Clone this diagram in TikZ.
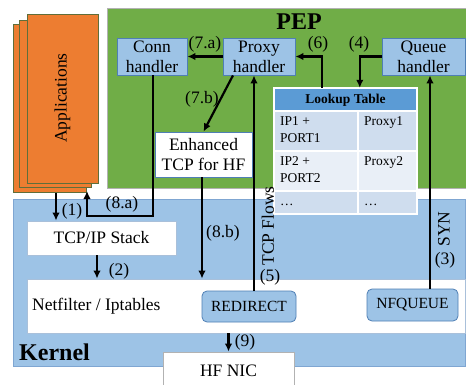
\documentclass[tikz,border=0pt]{standalone}
\usepackage{fontspec}
\setmainfont{Liberation Serif}
\usetikzlibrary{arrows.meta}
\definecolor{orng}{HTML}{ED7D31}
\definecolor{orngb}{HTML}{5F6E3A}
\definecolor{pepg}{HTML}{70AD47}
\definecolor{lblue}{HTML}{9DC3E6}
\definecolor{bord}{HTML}{4F7FB5}
\definecolor{kbord}{HTML}{7FA6D2}
\definecolor{wbord}{HTML}{A9C0DA}
\definecolor{hdr}{HTML}{5B9BD5}
\definecolor{rowa}{HTML}{CFDDEE}
\definecolor{rowb}{HTML}{E9EFF7}
\tikzset{
  mfont/.style={font=\fontsize{17.5}{20}\selectfont},
  tfont/.style={font=\fontsize{13.5}{17}\selectfont},
  box/.style={draw, inner sep=0pt, mfont, align=center},
  appbox/.style={box, fill=orng, draw=orngb, line width=0.8pt},
  handler/.style={box, fill=lblue, draw=bord, line width=0.8pt, minimum height=37pt},
  whitebox/.style={box, fill=white, draw=wbord, line width=0.8pt},
  rulebox/.style={box, fill=lblue, draw=bord, line width=0.8pt, rounded corners=5pt, font=\fontsize{15.5}{18}\selectfont},
  arr/.style={line width=2.2pt, -{Latex[length=8pt,width=7.5pt]}},
  lbl/.style={mfont, inner sep=0pt},
}
\begin{document}
\begin{tikzpicture}[x=1pt,y=-1pt]
\useasboundingbox (0,0) rectangle (466,385);
\clip (0,0) rectangle (466,385);
% big regions
\node[box, fill=pepg, draw=gray!60, line width=0.8pt, minimum width=359pt, minimum height=180pt] (pep) at (286.5,98) {};
\node[box, fill=lblue, draw=kbord, line width=0.8pt, minimum width=452pt, minimum height=167pt] (kernel) at (239.5,282.5) {};
\node[font=\fontsize{24}{26}\selectfont\bfseries, inner sep=0pt] (peplbl) at (299,22) {PEP};
\node[font=\fontsize{24}{26}\selectfont\bfseries, inner sep=0pt, anchor=west] (kernlbl) at (19,352) {Kernel};
% applications
\node[appbox, minimum width=73pt, minimum height=168pt] (app3) at (49.5,108) {};
\node[appbox, minimum width=72pt, minimum height=167pt] (app2) at (55,103.5) {};
\node[appbox, minimum width=71pt, minimum height=169pt] (app1) at (62.5,98.5) {};
\node[lbl, rotate=90] (applbl) at (62.5,98) {Applications};
% PEP handlers
\node[handler, minimum width=70pt] (conn) at (152,56.5) {Conn\\handler};
\node[handler, minimum width=72pt] (proxy) at (259,56.5) {Proxy\\handler};
\node[handler, minimum width=83pt] (queue) at (423.5,56.5) {Queue\\handler};
\node[whitebox, draw=bord, minimum width=97pt, minimum height=45pt] (enh) at (203.5,154.5) {Enhanced\\TCP for HF};
% lookup table
\node[draw=none, inner sep=0pt, minimum width=143pt, minimum height=126pt] (table) at (345.5,151) {};
\fill[hdr] (274,88) rectangle (417,111);
\fill[rowa] (274,111) rectangle (417,151);
\fill[rowb] (274,151) rectangle (417,191);
\fill[rowa] (274,191) rectangle (417,214);
\draw[white, line width=1.5pt] (274,88) rectangle (417,214);
\draw[white, line width=1.5pt] (274,111) -- (417,111) (274,151) -- (417,151) (274,191) -- (417,191) (358,111) -- (358,214);
\node[tfont, font=\fontsize{13.5}{17}\selectfont\bfseries, inner sep=0pt] (thdr) at (345.5,100) {Lookup Table};
\node[tfont, inner sep=0pt, anchor=north west, align=left] (c11) at (280,116) {IP1 +\\PORT1};
\node[tfont, inner sep=0pt, anchor=north west, align=left] (c12) at (364,116) {Proxy1};
\node[tfont, inner sep=0pt, anchor=north west, align=left] (c21) at (280,156) {IP2 +\\PORT2};
\node[tfont, inner sep=0pt, anchor=north west, align=left] (c22) at (364,156) {Proxy2};
\node[tfont, inner sep=0pt, anchor=west] (c31) at (280,205) {\dots};
\node[tfont, inner sep=0pt, anchor=west] (c32) at (364,205) {\dots};
% kernel boxes
\node[whitebox, minimum width=149pt, minimum height=34pt] (tcpip) at (101.5,238) {TCP/IP Stack};
\node[whitebox, minimum width=438pt, minimum height=54pt] (netf) at (246,306) {};
\node[lbl, anchor=west] (netflbl) at (32,306) {Netfilter / Iptables};
\node[rulebox, minimum width=94pt, minimum height=31pt] (redirect) at (249,306.5) {REDIRECT};
\node[rulebox, minimum width=91pt, minimum height=32pt] (nfqueue) at (412.5,305) {NFQUEUE};
\node[whitebox, draw=gray!60, minimum width=131pt, minimum height=40pt, text depth=0pt] (hfnic) at (228.5,372) {};
\node[lbl] (hflbl) at (228.5,371) {HF NIC};
% connectors
\draw[arr] (proxy.west) -- (conn.east);
\draw[arr] ([xshift=48pt]table.north west) |- (proxy.east);
\draw[arr] (queue.west) -| ([xshift=86pt]table.north west);
\draw[arr] ([xshift=-26pt]proxy.south) -- (enh.north);
\draw[arr] ([xshift=5pt]redirect.north) -- ([xshift=-5pt]proxy.south);
\coordinate (qin) at ([xshift=6.5pt]queue.south);
\draw[arr] (nfqueue.north -| qin) -- (qin);
\coordinate (a8) at (87,191);
\draw[arr] ([xshift=1pt]conn.south) |- (120,216) -| (a8);
\coordinate (a1) at (56,192.5);
\draw[arr] (a1) -- (tcpip.north -| a1);
\draw[arr] ([xshift=-1.5pt]enh.south) -- ([xshift=-1.5pt]enh.south |- netf.north);
\draw[arr] ([xshift=-4.5pt]tcpip.south) -- ([xshift=-4.5pt]tcpip.south |- netf.north);
\draw[arr] (netf.south -| hfnic.north) -- (hfnic.north);
% labels
\node[lbl] (l7a) at (205,44) {(7.a)};
\node[lbl] (l6) at (318,44) {(6)};
\node[lbl] (l4) at (359,44) {(4)};
\node[lbl] (l7b) at (202,99) {(7.b)};
\node[lbl] (l8a) at (122,204) {(8.a)};
\node[lbl] (l1) at (72,211) {(1)};
\node[lbl] (l2) at (119,271) {(2)};
\node[lbl] (l8b) at (223,233) {(8.b)};
\node[lbl, rotate=90] (ltcp) at (268,226) {TCP Flows};
\node[lbl] (l5) at (270,277) {(5)};
\node[lbl, rotate=90] (lsyn) at (444,229) {SYN};
\node[lbl] (l3) at (445,260) {(3)};
\node[lbl] (l9) at (245,342) {(9)};
\end{tikzpicture}
\end{document}
